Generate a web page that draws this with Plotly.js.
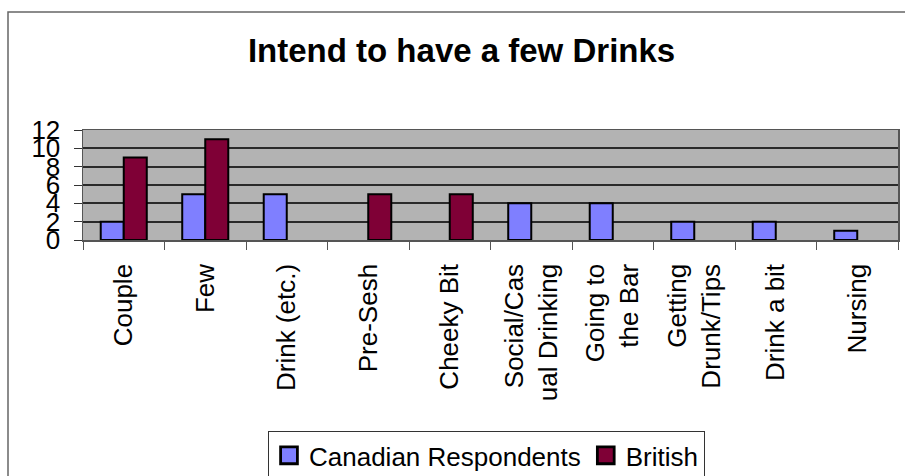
<!DOCTYPE html>
<html>
<head>
<meta charset="utf-8">
<script src="https://cdn.plot.ly/plotly-3.0.1.min.js"></script>
<style>html,body{margin:0;padding:0;background:#fff;}#chart{width:905px;height:476px;}</style>
</head>
<body>
<div id="chart"></div>
<script>
var categories = ["Couple", "Few", "Drink (etc.)", "Pre-Sesh", "Cheeky Bit",
  "Social/Cas<br>ual Drinking", "Going to<br>the Bar", "Getting<br>Drunk/Tips", "Drink a bit", "Nursing"];
var canadian = [2, 5, 5, 0, 0, 4, 4, 2, 2, 1];
var british = [9, 11, 0, 5, 5, 0, 0, 0, 0, 0];
var seriesNames = ["Canadian Respondents", "British"];
var yTicks = [0, 2, 4, 6, 8, 10, 12];
var titleText = "Intend to have a few Drinks";

var FONT = "Liberation Sans, Arial, sans-serif";

// zero-height bars are not drawn in the reference (no outline)
function hideZero(arr) { return arr.map(function (v) { return v === 0 ? null : v; }); }

var traces = [
  {type: "bar", x: categories, y: hideZero(canadian), name: seriesNames[0],
   marker: {color: "#7f7fff", line: {color: "#000", width: 2}}},
  {type: "bar", x: categories, y: hideZero(british), name: seriesNames[1],
   marker: {color: "#7f0036", line: {color: "#000", width: 2}}}
];

var layout = {
  width: 905, height: 476,
  margin: {l: 83, r: 7, t: 130, b: 236, autoexpand: false},
  paper_bgcolor: "#fff",
  plot_bgcolor: "#b3b3b3",
  font: {family: FONT, size: 26, color: "#000"},
  title: {text: titleText, font: {family: FONT, size: 33, color: "#000", weight: "bold"},
          x: 0.51, xref: "container", xanchor: "center", y: 0.895, yanchor: "middle"},
  barmode: "group", bargap: 0.435, bargroupgap: 0,
  showlegend: true,
  legend: {orientation: "h", x: 0.227, xanchor: "left", y: -1.736, yanchor: "top",
           bordercolor: "#333", borderwidth: 1, bgcolor: "#fff",
           font: {family: FONT, size: 26, color: "#000"}, traceorder: "normal"},
  xaxis: {type: "category", tickangle: -90, ticks: "outside", ticklen: 8, tickcolor: "#555",
          tickson: "boundaries", showgrid: false, showline: true, mirror: true,
          linecolor: "#555", linewidth: 1.5, ticklabelstandoff: 12, automargin: false,
          tickfont: {family: FONT, size: 26, color: "#000"}, fixedrange: true},
  yaxis: {range: [0, 12], tickvals: yTicks, ticktext: yTicks.map(String),
          ticks: "outside", ticklen: 8, tickcolor: "#333",
          showgrid: true, gridcolor: "#2a2a2a", gridwidth: 2, zeroline: false,
          showline: true, mirror: true, linecolor: "#555", linewidth: 1.5,
          ticklabelstandoff: 8, automargin: false,
          tickfont: {family: FONT, size: 26, color: "#000"}, fixedrange: true},
  shapes: [
    {type: "rect", xref: "paper", yref: "paper",
     x0: (8 - 83) / 815, x1: (912 - 83) / 815, y0: (240 - 490) / 110, y1: (240 - 12) / 110,
     line: {color: "#666", width: 1.5}, fillcolor: "rgba(0,0,0,0)", layer: "below"}
  ]
};

Plotly.newPlot("chart", traces, layout, {staticPlot: true, displayModeBar: false}).then(function (gd) {
  // enlarge legend swatches to match the reference's bigger squares
  var paths = gd.querySelectorAll(".legend .legendpoints path");
  paths.forEach(function (p) {
    var t = p.getAttribute("transform") || "";
    p.setAttribute("transform", t + " scale(1.4)");
  });
});
</script>
</body>
</html>
